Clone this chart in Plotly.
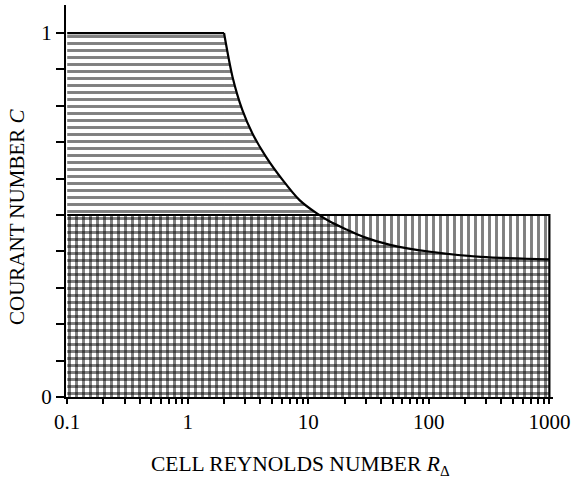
import plotly.graph_objects as go

# Stability boundary: cell Reynolds number vs Courant number
R_curve = [2.0, 2.35, 2.84, 3.44, 4.46, 6.14, 8.46, 11.7, 15.1, 20.8, 28.6, 47.7, 103, 270, 1000]
C_curve = [1.0, 0.88, 0.788, 0.724, 0.66, 0.596, 0.541, 0.505, 0.482, 0.460, 0.440, 0.418, 0.399, 0.385, 0.378]

R_min, R_max = 0.1, 1000
C_top = 1.0          # upper limit of the horizontally hatched region
C_half = 0.5         # upper limit of the vertically hatched region

x_tick_labels = ["0.1", "1", "10", "100", "1000"]
y_tick_labels = ["0", "1"]

FONT = "Liberation Serif"
HATCH = dict(size=7, solidity=0.42, fgcolor="black", bgcolor="rgba(0,0,0,0)")

fig = go.Figure()

# Region 1a: horizontal hatching, flat part (C below 1, R up to the curve start)
fig.add_trace(go.Scatter(
    x=[R_min, R_min, R_curve[0], R_curve[0]], y=[0, C_top, C_top, 0],
    mode="lines", fill="toself", fillcolor="rgba(0,0,0,0)",
    fillpattern=dict(shape="-", **HATCH),
    line=dict(width=0, color="black"), hoverinfo="skip", showlegend=False))

# Region 1b: horizontal hatching below the curve
fig.add_trace(go.Scatter(
    x=R_curve, y=C_curve, mode="lines", fill="tozeroy", fillcolor="rgba(0,0,0,0)",
    fillpattern=dict(shape="-", **HATCH),
    line=dict(width=0, color="black", shape="spline", smoothing=0.8),
    hoverinfo="skip", showlegend=False))

# Region 2: vertical hatching (C below 0.5)
fig.add_trace(go.Scatter(
    x=[R_min, R_min, R_max, R_max], y=[0, C_half, C_half, 0],
    mode="lines", fill="toself", fillcolor="rgba(0,0,0,0)",
    fillpattern=dict(shape="|", **HATCH),
    line=dict(width=0, color="black"), hoverinfo="skip", showlegend=False))

# Boundary lines
fig.add_trace(go.Scatter(
    x=[R_min, R_curve[0]], y=[C_top, C_top], mode="lines",
    line=dict(color="black", width=2.2), hoverinfo="skip", showlegend=False))
fig.add_trace(go.Scatter(
    x=R_curve, y=C_curve, mode="lines",
    line=dict(color="black", width=2.2, shape="spline", smoothing=0.8),
    hoverinfo="skip", showlegend=False))
fig.add_trace(go.Scatter(
    x=[R_min, R_max, R_max], y=[C_half, C_half, 0], mode="lines",
    line=dict(color="black", width=2.2), hoverinfo="skip", showlegend=False))

# Tick positions
decades = [0.1, 1, 10, 100]
x_tickvals, x_ticktext = [], []
for i, d in enumerate(decades):
    for m in range(1, 10):
        x_tickvals.append(d * m)
        x_ticktext.append(x_tick_labels[i] if m == 1 else "")
x_tickvals.append(R_max)
x_ticktext.append(x_tick_labels[-1])

y_tickvals = [round(0.1 * k, 1) for k in range(11)]
y_ticktext = [y_tick_labels[0]] + [""] * 9 + [y_tick_labels[1]]

fig.update_layout(
    width=576, height=480, autosize=False,
    margin=dict(l=66, r=23, t=5, b=83),
    paper_bgcolor="white", plot_bgcolor="white",
    font=dict(family=FONT, color="black", size=21),
    xaxis=dict(type="log", range=[-1.01, 3.03], showgrid=False, zeroline=False,
               showline=True, linecolor="black", linewidth=2.2,
               tickmode="array", tickvals=x_tickvals, ticktext=x_ticktext,
               ticks="outside", ticklen=5, tickwidth=1.8, tickcolor="black",
               ticklabelstandoff=0,
               tickfont=dict(family=FONT, size=21, color="black")),
    yaxis=dict(range=[0, 1.077], showgrid=False, zeroline=False,
               showline=True, linecolor="black", linewidth=2.2,
               tickmode="array", tickvals=y_tickvals, ticktext=y_ticktext,
               ticks="outside", ticklen=8, tickwidth=1.8, tickcolor="black",
               tickfont=dict(family=FONT, size=21, color="black")),
    annotations=[
        dict(text="CELL REYNOLDS NUMBER <i>R</i><sub>Δ</sub>", xref="paper", yref="paper",
             x=(300 - 66) / 487, y=-(465 - 397) / 392, xanchor="center", yanchor="middle",
             showarrow=False, font=dict(family=FONT, size=21.5, color="black")),
        dict(text="COURANT NUMBER <i>C</i>", xref="paper", yref="paper",
             x=-(66 - 17) / 487, y=(397 - 217) / 392, xanchor="center", yanchor="middle",
             textangle=-90, showarrow=False,
             font=dict(family=FONT, size=21, color="black")),
    ],
)

fig.write_html("out.html")
